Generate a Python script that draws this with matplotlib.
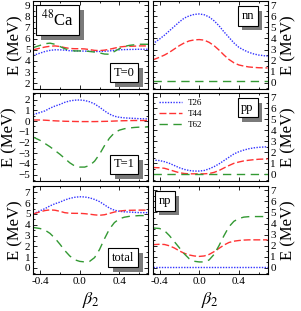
import numpy as np
import matplotlib
matplotlib.use('Agg')
import matplotlib.pyplot as plt
import matplotlib.patheffects as pe
from matplotlib.ticker import MultipleLocator

plt.rcParams['font.family'] = ['Liberation Serif', 'DejaVu Serif']
plt.rcParams['mathtext.fontset'] = 'stix'

# deformation grid
beta = [-0.47, -0.4, -0.35, -0.3, -0.25, -0.2, -0.15, -0.1, -0.05, 0.0, 0.05, 0.1,
        0.15, 0.2, 0.25, 0.3, 0.35, 0.4, 0.45, 0.5, 0.55, 0.6, 0.69]

# T=0 channel
t0_t26 = [4.5, 4.7, 4.85, 4.95, 5.0, 5.0, 4.97, 4.92, 4.9, 4.9, 4.88, 4.87,
          4.85, 4.85, 4.87, 4.9, 4.95, 5.0, 5.02, 5.03, 5.04, 5.05, 5.05]
t0_t44 = [5.0, 5.15, 5.25, 5.32, 5.35, 5.3, 5.2, 5.12, 5.1, 5.1, 5.08, 5.02,
          4.95, 4.93, 4.97, 5.05, 5.15, 5.25, 5.3, 5.32, 5.33, 5.35, 5.35]
t0_t62 = [5.2, 5.4, 5.55, 5.6, 5.5, 5.3, 5.1, 4.95, 4.9, 4.9, 4.9, 4.85,
          4.8, 4.72, 4.62, 4.6, 4.85, 5.1, 5.3, 5.4, 5.45, 5.5, 5.5]

# T=1 channel
t1_t26 = [0.6, 0.8, 0.95, 1.2, 1.4, 1.55, 1.75, 1.88, 1.95, 1.97, 1.92, 1.8,
          1.6, 1.3, 0.95, 0.65, 0.45, 0.35, 0.3, 0.27, 0.25, 0.22, 0.2]
t1_t44 = [0.1, 0.1, 0.08, 0.05, 0.02, 0.0, -0.02, -0.03, -0.04, -0.05, -0.05, -0.05,
          -0.05, -0.04, -0.03, -0.02, 0.0, 0.02, 0.03, 0.04, 0.05, 0.05, 0.05]
t1_t62 = [-1.5, -1.8, -2.1, -2.4, -2.75, -3.1, -3.5, -3.9, -4.2, -4.3, -4.3, -4.15,
          -3.75, -3.1, -2.3, -1.6, -1.1, -0.85, -0.72, -0.65, -0.6, -0.57, -0.55]

# total
tot_t26 = [5.0, 5.3, 5.5, 5.75, 5.95, 6.1, 6.3, 6.45, 6.55, 6.6, 6.58, 6.5,
           6.35, 6.15, 5.85, 5.55, 5.35, 5.25, 5.2, 5.18, 5.15, 5.13, 5.12]
tot_t44 = [5.0, 5.2, 5.32, 5.38, 5.35, 5.25, 5.12, 5.07, 5.06, 5.06, 5.03, 4.98,
           4.92, 4.88, 4.93, 5.05, 5.18, 5.27, 5.32, 5.34, 5.35, 5.36, 5.36]
tot_t62 = [3.75, 3.65, 3.5, 3.2, 2.75, 2.2, 1.6, 1.1, 0.75, 0.6, 0.55, 0.6,
           0.95, 1.7, 2.7, 3.6, 4.2, 4.55, 4.7, 4.78, 4.82, 4.85, 4.85]

# nn
nn_t26 = [3.5, 3.95, 4.3, 4.7, 5.1, 5.5, 5.85, 6.05, 6.18, 6.22, 6.15, 5.95,
          5.6, 5.15, 4.6, 4.1, 3.6, 3.2, 2.95, 2.75, 2.6, 2.5, 2.4]
nn_t44 = [2.05, 2.3, 2.5, 2.75, 3.05, 3.35, 3.6, 3.78, 3.87, 3.9, 3.85, 3.65,
          3.35, 2.95, 2.5, 2.1, 1.8, 1.6, 1.5, 1.42, 1.38, 1.35, 1.33]
nn_t62 = [0.15] * 23

# pp
pp_t26 = [1.3, 1.25, 1.15, 1.0, 0.8, 0.6, 0.45, 0.35, 0.3, 0.3, 0.35, 0.5,
          0.7, 0.95, 1.25, 1.55, 1.85, 2.05, 2.2, 2.32, 2.4, 2.45, 2.5]
pp_t44 = [0.62, 0.6, 0.55, 0.42, 0.28, 0.15, 0.08, 0.05, 0.05, 0.05, 0.05, 0.08,
          0.18, 0.35, 0.58, 0.8, 1.0, 1.12, 1.22, 1.28, 1.33, 1.37, 1.4]
pp_t62 = [0.02] * 23

# np
np_t26 = [0.03] * 23
np_t44 = [2.08, 2.12, 2.1, 1.98, 1.78, 1.52, 1.3, 1.15, 1.06, 1.02, 1.06, 1.2,
          1.45, 1.75, 2.05, 2.28, 2.4, 2.46, 2.5, 2.52, 2.52, 2.52, 2.52]
np_t62 = [3.6, 3.55, 3.35, 2.9, 2.35, 1.8, 1.25, 0.8, 0.58, 0.52, 0.52, 0.7,
          1.2, 2.0, 2.9, 3.7, 4.2, 4.45, 4.58, 4.62, 4.63, 4.63, 4.63]

forces = ['T26', 'T44', 'T62']
colors = ['#3333ff', '#ff3333', '#339933']
styles = [(0, (1, 1)), (0, (5, 2)), (0, (6, 4))]

fig = plt.figure(figsize=(3.01, 3.11), dpi=100)
W = 0.382
H = 0.284
lefts = [0.110, 0.507]
bottoms = [0.713, 0.418, 0.118]

panels = [
    (0, 0, [t0_t26, t0_t44, t0_t62], (1.45, 9.4), 2, 9),
    (0, 1, [nn_t26, nn_t44, nn_t62], (-0.6, 7.4), 0, 7),
    (1, 0, [t1_t26, t1_t44, t1_t62], (-5.6, 2.65), -5, 2),
    (1, 1, [pp_t26, pp_t44, pp_t62], (-0.6, 7.4), 0, 7),
    (2, 0, [tot_t26, tot_t44, tot_t62], (-0.6, 7.6), 0, 7),
    (2, 1, [np_t26, np_t44, np_t62], (-0.6, 7.4), 0, 7),
]

shadow = [pe.withSimplePatchShadow(offset=(3.5, -3.5), shadow_rgbFace='#7a7a7a', alpha=1)]


def box(ax, x, y, s, ha, va, size):
    t = ax.text(x, y, s, transform=ax.transAxes, ha=ha, va=va, fontsize=size,
                bbox=dict(boxstyle='square,pad=0.3', fc='white', ec='black', lw=0.8))
    t.get_bbox_patch().set_path_effects(shadow)


axes = {}
for r, c, series, ylim, y0, y1 in panels:
    ax = fig.add_axes([lefts[c], bottoms[r], W, H])
    axes[(r, c)] = ax
    for ys, name, col, ls in zip(series, forces, colors, styles):
        ax.plot(beta, ys, color=col, linestyle=ls, lw=1.0, label=name)
    ax.set_xlim(-0.47, 0.69)
    ax.set_ylim(*ylim)
    ax.set_xticks([-0.4, 0.0, 0.4])
    ax.xaxis.set_minor_locator(MultipleLocator(0.2))
    ax.set_yticks(np.arange(y0, y1 + 1, 1))
    ax.yaxis.set_minor_locator(MultipleLocator(0.5))
    ax.tick_params(which='both', direction='in', top=True, right=True,
                   labelsize=8, pad=2, width=0.6)
    ax.tick_params(which='major', length=3)
    ax.tick_params(which='minor', length=1.5)
    for sp in ax.spines.values():
        sp.set_linewidth(0.8)
    if r < 2:
        ax.set_xticklabels([])
    else:
        ax.set_xticklabels(['-0.4', '0.0', '0.4'])
        ax.set_xlabel(r'$\beta_2$', fontsize=13, labelpad=3)
    ax.set_ylabel('E (MeV)', fontsize=12, labelpad=1)
    if c == 1:
        ax.yaxis.tick_right()
        ax.yaxis.set_label_position('right')
        ax.tick_params(which='both', left=True, right=True)
        ax.set_ylabel('E (MeV)', fontsize=12, labelpad=3, rotation=90)

box(axes[(0, 0)], 0.07, 0.9, r'$^{48}$Ca', 'left', 'top', 12)
box(axes[(0, 0)], 0.88, 0.12, 'T=0', 'right', 'bottom', 9)
box(axes[(0, 1)], 0.88, 0.9, 'nn', 'right', 'top', 9)
box(axes[(1, 0)], 0.88, 0.12, 'T=1', 'right', 'bottom', 9)
box(axes[(1, 1)], 0.88, 0.9, 'pp', 'right', 'top', 9)
box(axes[(2, 0)], 0.88, 0.12, 'total', 'right', 'bottom', 9)
box(axes[(2, 1)], 0.05, 0.9, 'np', 'left', 'top', 9)

axes[(1, 1)].legend(loc='upper left', frameon=False, fontsize=6.5, handlelength=2.6,
                    borderaxespad=0.3, labelspacing=0.3, handletextpad=0.6)

fig.savefig('out.png', dpi=100)
